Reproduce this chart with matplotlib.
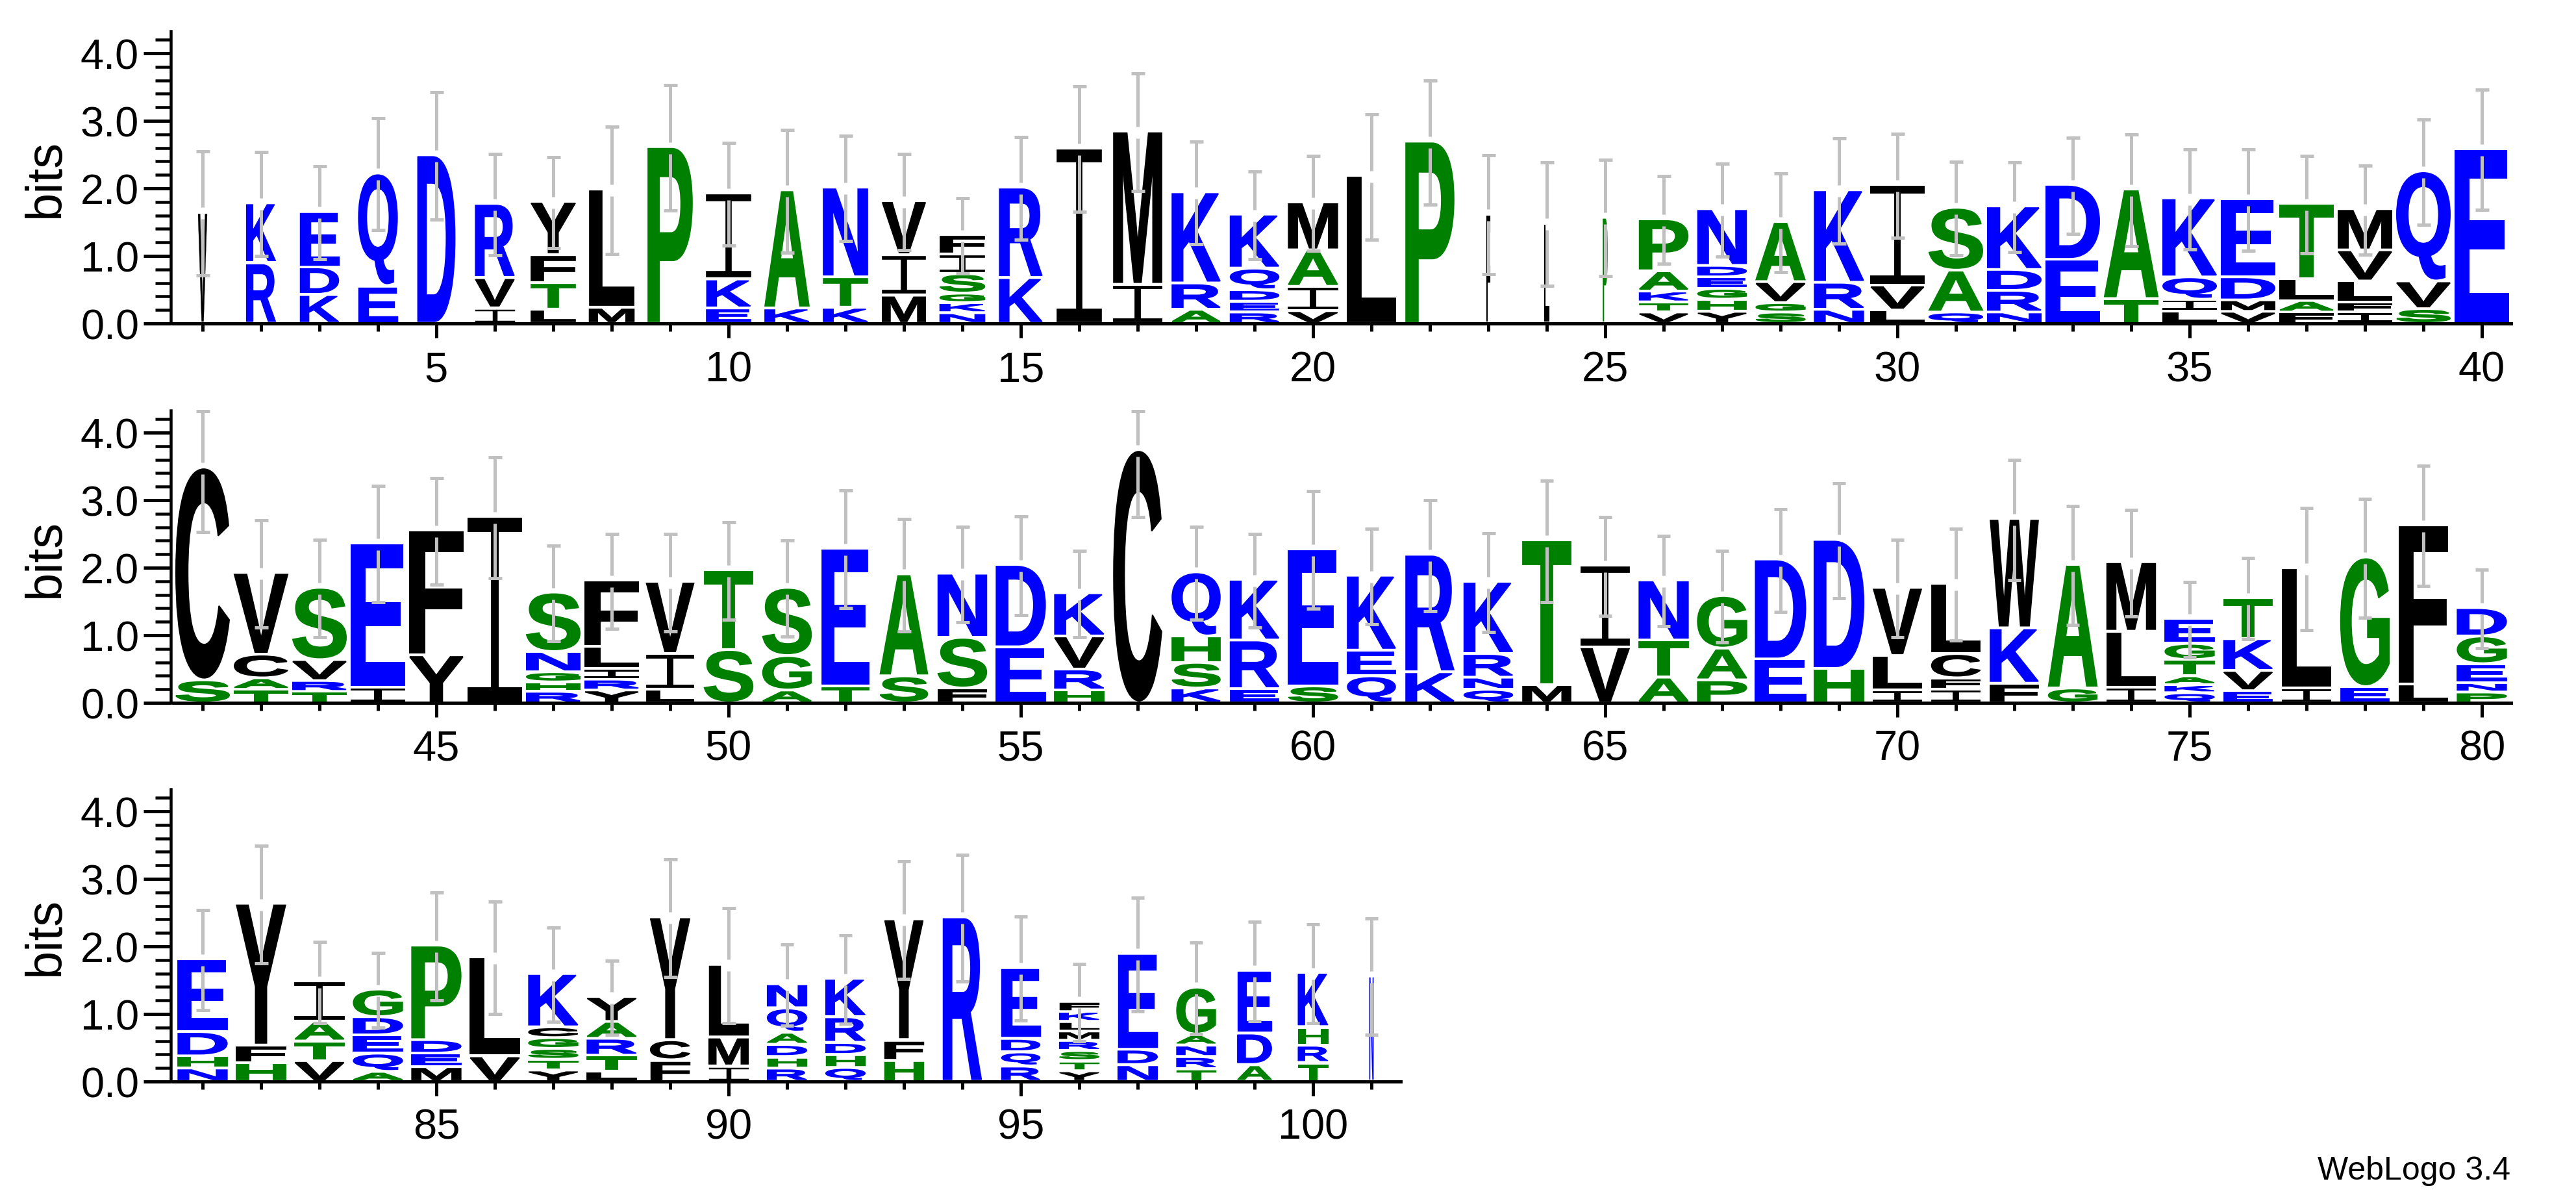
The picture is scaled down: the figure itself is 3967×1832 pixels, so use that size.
import matplotlib
matplotlib.use("Agg")
import matplotlib.pyplot as plt
from matplotlib.font_manager import FontProperties
from matplotlib.patches import PathPatch
from matplotlib.path import Path
from matplotlib.textpath import TextPath
from matplotlib.transforms import Affine2D
from matplotlib.ticker import MultipleLocator, FixedLocator

# one string per position, letters listed from the bottom of the stack to the top
letters = [
    "V", "RK", "KDE", "EQ", "D", "IVR", "LTFY", "ML", "P", "EKI",
    "KA", "KTN", "MIV", "NKGSIF", "KR", "I", "IM", "ARK", "REDQK", "VIAM",
    "L", "P", "F", "L", "P", "VTKAP", "YHGEDN", "SGVA", "NRK", "LVI",
    "QAS", "NRDK", "ED", "TA", "LIQK", "VMDE", "FALT", "IFLVM", "SVQ", "E",
    "SC", "TACV", "TRVS", "IE", "YF", "I", "RHGNS", "YRILF", "LIV", "ST",
    "AGS", "TE", "SA", "FSN", "ED", "HRVK", "C", "KSHQ", "ERK", "SE",
    "QEK", "KR", "QNRK", "MT", "VI", "ATN", "PAG", "ED", "HD", "ILV",
    "IFCL", "FKW", "GA", "ILM", "QKATGE", "EVKT", "IL", "EG", "LF", "PNEGD",
    "NHDE", "HFY", "VTAI", "AQEDG", "MEDP", "VL", "YTSGCK", "LTRAY", "FCY", "IML",
    "RHDAQN", "QHDRK", "HFY", "R", "RQDE", "YTSRMLKF", "NDE", "TRNAG", "ADE", "TRHK",
    "N",
]
heights = [
    [1.63], [.90, .87], [.43, .41, .80], [.56, 1.65], [2.48],
    [.23, .45, 1.08], [.21, .40, .41, .77], [.24, 1.73], [2.60], [.23, .43, 1.25],
    [.23, 1.73], [.24, .45, 1.31], [.42, .60, .78], [.16, .15, .14, .29, .29, .27], [.68, 1.32],
    [2.58], [.58, 2.25], [.21, .39, 1.33], [.17, .16, .17, .32, .78], [.19, .36, .54, .69],
    [2.17], [2.68], [1.61], [1.47], [1.56],
    [.17, .15, .16, .30, .75], [.18, .18, .16, .17, .17, .82], [.17, .14, .31, .87], [.21, .40, 1.35], [.20, .37, 1.47],
    [.17, .62, .91], [.17, .32, .31, .92], [.95, 1.09], [.37, 1.60], [.18, .18, .33, 1.15],
    [.18, .17, .34, 1.14], [.17, .17, .32, 1.10], [.17, .15, .31, .46, .59], [.22, .41, 1.61], [2.57],
    [.34, 3.13], [.20, .17, .35, 1.19], [.17, .16, .31, 1.05], [.23, 2.12], [.71, 1.83],
    [2.74], [.17, .14, .15, .30, .86], [.19, .16, .16, .33, .96], [.20, .53, 1.05], [.79, 1.16],
    [.19, .51, .99], [.25, 2.02], [.40, 1.49], [.22, .75, .93], [.83, 1.20],
    [.19, .31, .49, .62], [3.73], [.22, .38, .39, .93], [.21, .72, .88], [.25, 2.01],
    [.40, .38, 1.09], [.46, 1.72], [.20, .18, .35, 1.05], [.27, 2.12], [.83, 1.19],
    [.38, .55, .87], [.34, .47, .76], [.65, 1.46], [.51, 1.89], [.19, .51, .99],
    [.20, .17, .36, 1.02], [.29, .82, 1.60], [.22, 1.81], [.23, .83, 1.01], [.15, .12, .13, .24, .24, .35],
    [.18, .30, .47, .59], [.22, 1.76], [.24, 1.90], [.28, 2.34], [.16, .14, .28, .41, .40],
    [.20, .18, .36, 1.06], [.28, .26, 2.08], [.31, .29, .29, .58], [.15, .27, .27, .27, .39], [.22, .20, .20, 1.38],
    [.38, 1.45], [.17, .16, .16, .16, .16, .77], [.15, .24, .25, .25, .35], [.32, .30, 1.80], [.23, .43, 1.06],
    [.20, .17, .18, .18, .36, .34], [.21, .19, .18, .38, .55], [.32, .30, 1.77], [2.42], [.23, .21, .20, 1.03],
    [.16, .15, .15, .15, .14, .14, .15, .13], [.25, .23, 1.40], [.19, .18, .17, .16, .68], [.25, .47, .91], [.28, .26, .27, .79],
    [1.55],
]
# half length of the grey error bar, in bits
errors = [
    .92, .77, .69, .83, .94, .75, .67, .94, .93, .76,
    .91, .78, .71, .56, .76, .93, .87, .76, .65, .70,
    .93, .92, .88, .91, .86, .65, .69, .73, .78, .77,
    .69, .66, .71, .83, .74, .75, .72, .66, .78, .89,
    .94, .79, .72, .86, .79, .89, .71, .70, .72, .72,
    .71, .87, .83, .71, .73, .64, .98, .69, .69, .87,
    .71, .82, .73, .90, .73, .67, .68, .76, .85, .72,
    .83, .89, .88, .79, .56, .60, .90, .88, .89, .58,
    .74, .87, .60, .55, .80, .83, .70, .55, .87, .85,
    .60, .65, .87, .94, .77, .57, .84, .68, .74, .73,
    .86,
]
# stack width as a share of the full column
stack_widths = [
    .17, .55, .72, .73, .70, .73, .83, .84, .83, .82,
    .83, .83, .81, .84, .80, .82, .90, .90, .91, .92,
    .90, .90, .08, .09, .09, .91, .91, .92, .92, .99,
    1.0, 1.0, 1.0, 1.0, 1.0, 1.0, 1.0, 1.0, 1.0, 1.0,
    1.0, 1.0, 1.0, 1.0, 1.0, 1.0, 1.0, 1.0, .89, .91,
    .91, .89, .89, .91, .92, .92, .90, .90, .91, .92,
    .90, .90, .91, .90, .90, .92, .92, .94, .93, .90,
    .91, .90, .91, .91, .92, .91, .90, .91, .90, .92,
    .92, .92, .92, .92, .92, .92, .92, .92, .74, .74,
    .74, .74, .72, .72, .72, .74, .74, .73, .64, .56,
    .08,
]
rows = [(1, 40, 499), (41, 80, 1083), (81, 101, 1666)]

W, H = 3967, 1833
PX = 72 / 100  # points per pixel
BITS_PX = 104.0
COL_PX = 90.0
FULL_STACK = 82 / 90
MAX_BITS = 4.32
GREEN, BLUE = "#008000", "#0000ff"
colors = {}
for c in "AGHPST":
    colors[c] = GREEN
for c in "DEKNQR":
    colors[c] = BLUE
for c in "CFILMVWY":
    colors[c] = "black"

plt.rcParams["font.family"] = "Liberation Sans"
bold = FontProperties(family="Liberation Sans", weight="bold")


def glyph(c):
    # the logo's I has bars top and bottom, the font's has not
    if c == "I":
        s, b = .055, .07
        pts = [(0, 0), (1, 0), (1, b), (.5 + s, b), (.5 + s, 1 - b), (1, 1 - b), (1, 1),
               (0, 1), (0, 1 - b), (.5 - s, 1 - b), (.5 - s, b), (0, b), (0, 0)]
        return Path(pts, closed=True)
    p = TextPath((0, 0), c, size=100, prop=bold)
    e = p.get_extents()
    return p.transformed(Affine2D().translate(-e.x0, -e.y0).scale(1 / e.width, 1 / e.height))


fig = plt.figure(figsize=(W / 100, H / 100), dpi=100)
pad = 3 / BITS_PX

for first, last, base in rows:
    n = last - first + 1
    ax = fig.add_axes([267 / W, 1 - base / H, n * COL_PX / W, 450 / H])
    ax.set_xlim(first - .5, last + .5)
    ax.set_ylim(0, 450 / BITS_PX)

    for pos in range(first, last + 1):
        i = pos - 1
        w = stack_widths[i] * FULL_STACK
        cum = 0
        for j, (c, h) in enumerate(zip(letters[i], heights[i])):
            y0 = cum + pad
            y1 = cum + h - 1 / BITS_PX if j == len(heights[i]) - 1 else cum + h - pad
            t = Affine2D().scale(w, y1 - y0).translate(pos - w / 2, y0)
            # thin outline: the logo's font is heavier than Liberation bold
            ax.add_patch(PathPatch(glyph(c).transformed(t), fc=colors[c], ec=colors[c],
                                   lw=2 * stack_widths[i] * PX, clip_on=False, zorder=2))
            cum += h
        # error bar is left out right around the top of the stack
        hi = min(cum + errors[i], MAX_BITS)
        lo = cum - errors[i]
        gap = 9 / BITS_PX
        for a, b in [(cum + gap, hi), (lo, cum - gap)]:
            ax.vlines(pos, a, b, color="#c0c0c0", lw=5 * PX, capstyle="butt", zorder=3, clip_on=False)
        ax.hlines([lo, hi], pos - 10.5 / COL_PX, pos + 10.5 / COL_PX, color="#c0c0c0", lw=5 * PX,
                  capstyle="butt", zorder=3, clip_on=False)

    ax.spines["top"].set_visible(False)
    ax.spines["right"].set_visible(False)
    ax.spines["left"].set_position(("outward", 4.4 * PX))
    ax.spines["left"].set_linewidth(4.5 * PX)
    ax.spines["bottom"].set_linewidth(5 * PX)

    ax.xaxis.set_major_locator(FixedLocator([p for p in range(first, last + 1) if p % 5 == 0]))
    ax.xaxis.set_minor_locator(FixedLocator([p for p in range(first, last + 1) if p % 5]))
    ax.yaxis.set_major_locator(MultipleLocator(1))
    ax.yaxis.set_minor_locator(MultipleLocator(.2))
    ax.set_yticks([0, 1, 2, 3, 4], ["0.0", "1.0", "2.0", "3.0", "4.0"])
    ax.tick_params(axis="x", which="major", length=22 * PX, width=5 * PX, pad=19 * PX, labelsize=46.8)
    ax.tick_params(axis="x", which="minor", length=12 * PX, width=5 * PX)
    ax.tick_params(axis="y", which="major", length=42 * PX, width=5 * PX, pad=6.5 * PX, labelsize=46.8)
    ax.tick_params(axis="y", which="minor", length=24 * PX, width=4.5 * PX)
    ax.patch.set_alpha(0)

    fig.text(70 / W, 1 - (base - 224) / H, "bits", rotation=90, ha="center", va="center", fontsize=56)

fig.text(3866 / W, 1 - 1816 / H, "WebLogo 3.4", ha="right", va="baseline", fontsize=36)

fig.savefig("out.png", dpi=100)
